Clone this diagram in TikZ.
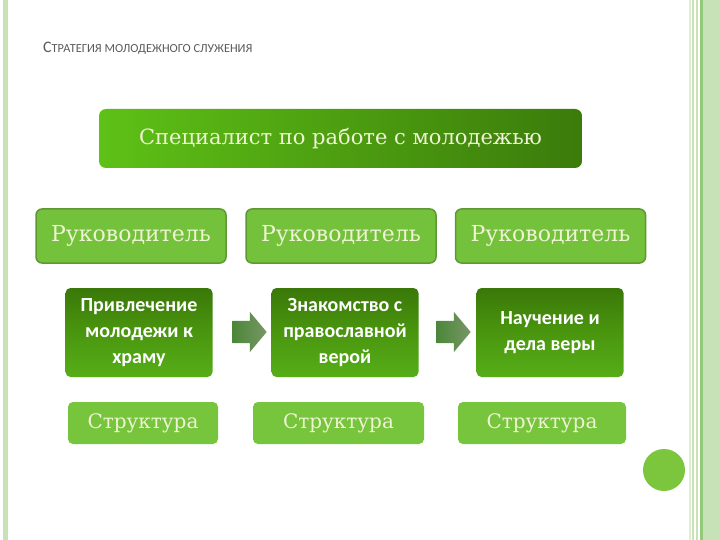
\documentclass[tikz,border=0pt]{standalone}
\usepackage{fontspec}
\setmainfont{DejaVu Serif}
\newfontfamily\calfont{Carlito}
\usetikzlibrary{shapes.arrows,calc}
\definecolor{cream}{HTML}{EEF3D2}
\definecolor{topL}{HTML}{5EC116}
\definecolor{topR}{HTML}{3B7B0B}
\definecolor{rfill}{HTML}{74C13C}
\definecolor{rborder}{HTML}{5E9834}
\definecolor{gdark}{HTML}{3A7809}
\definecolor{gmid}{HTML}{4A960F}
\definecolor{glight}{HTML}{56AE18}
\definecolor{sfill}{HTML}{77C43D}
\definecolor{arrL}{HTML}{4C863A}
\definecolor{arrR}{HTML}{789766}
\definecolor{titlegray}{HTML}{5A5A5A}
\definecolor{stripe}{HTML}{C6E2B6}
\definecolor{stripeD}{HTML}{92C97A}
\definecolor{circ}{HTML}{7CC63E}
\tikzset{
  topbox/.style={rounded corners=7pt, left color=topL, right color=topR,
    minimum width=483pt, minimum height=59pt, text=cream,
    font=\fontsize{21}{25}\selectfont},
  rbox/.style={draw=rborder, line width=1.5pt, fill=rfill, rounded corners=6pt,
    minimum width=190pt, minimum height=54pt, text=cream,
    font=\fontsize{22}{26}\selectfont},
  gbox/.style={top color=gdark, bottom color=glight, middle color=gmid,
    rounded corners=5pt, minimum width=147pt, minimum height=89pt,
    text=white, align=center, font=\calfont\bfseries\fontsize{20}{26}\selectfont},
  sbox/.style={fill=sfill, rounded corners=5pt, minimum height=42pt,
    text=cream, font=\fontsize{20}{24}\selectfont},
  blockarr/.style={single arrow, left color=arrL, right color=arrR,
    minimum height=34pt, inner xsep=0pt, inner ysep=11pt,
    single arrow head extend=9pt, single arrow tip angle=100},
}
\begin{document}
\begin{tikzpicture}[x=1pt,y=-1pt]
\useasboundingbox (0,0) rectangle (720,540);
\fill[white] (0,0) rectangle (720,540);
% left strip
\fill[stripe] (3,0) rectangle (8,540);
% right border
\fill[stripe] (703,0) rectangle (720,540);
\fill[stripe!60] (689,0) rectangle (690.5,540);
\fill[stripe] (692,0) rectangle (693.5,540);
\fill[stripe] (696,0) rectangle (697.5,540);
\fill[stripeD] (700,0) rectangle (702.5,540);
% circle
\fill[circ] (664,470) circle (21);
% title
\node[anchor=base west, inner sep=0pt, text=titlegray, font=\calfont] (title) at (43,53)
  {{\fontsize{16}{16}\selectfont С}{\fontsize{12.3}{16}\selectfont ТРАТЕГИЯ МОЛОДЕЖНОГО СЛУЖЕНИЯ}};
% top
\node[topbox] (top) at (340.5,138.5) {Специалист по работе с молодежью};
% Руководитель
\node[rbox] (r1) at (131,236) {Руководитель};
\node[rbox] (r2) at (341,236) {Руководитель};
\node[rbox] (r3) at (550.5,236) {Руководитель};
% green boxes
\node[gbox] (g1) at (139,332.5) {Привлечение\\молодежи к\\храму};
\node[gbox] (g2) at (345,332.5) {Знакомство с\\православной\\верой};
\node[gbox] (g3) at (550,332.5) {Научение и\\дела веры};
% arrows
\node[blockarr] (a1) at (245,332) {};
\node[blockarr] (a2) at (449,332) {};
% Структура
\node[sbox, minimum width=150pt] (s1) at (143,423) {Структура};
\node[sbox, minimum width=171pt] (s2) at (338.5,423) {Структура};
\node[sbox, minimum width=168pt] (s3) at (542,423) {Структура};
\end{tikzpicture}
\end{document}
